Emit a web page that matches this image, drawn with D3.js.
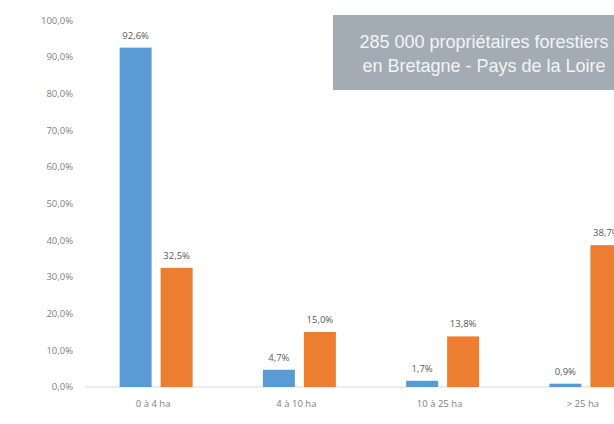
<!DOCTYPE html>
<html>
<head>
<meta charset="utf-8">
<script src="https://cdn.jsdelivr.net/npm/d3@7"></script>
<style>
  body { margin: 0; background: #fff; }
  svg { display: block; }
</style>
</head>
<body>
<svg width="614" height="424"></svg>
<script>
  // données
  const categories = ["0 à 4 ha", "4 à 10 ha", "10 à 25 ha", "> 25 ha"];
  const seriesNames = ["nombre", "surface"];
  const nombre = [92.6, 4.7, 1.7, 0.9];
  const surface = [32.5, 15.0, 13.8, 38.7];
  const yTicks = [0, 10, 20, 30, 40, 50, 60, 70, 80, 90, 100];
  const titleLines = ["285 000 propriétaires forestiers", "en Bretagne - Pays de la Loire"];

  const colors = ["#5b9bd5", "#ed7d31"];
  const fmt = v => d3.format(".1f")(v).replace(".", ",") + "%";

  const svg = d3.select("svg");

  // le graphique est coupé à droite : la zone de tracé dépasse la fenêtre
  const x = d3.scaleBand().domain(categories).range([84.5, 657.5]);
  const x1 = d3.scaleBand().domain(seriesNames).range([0, 73]).paddingInner(0.22);
  const y = d3.scaleLinear().domain([0, 100]).range([387, 20.5]);

  const rows = categories.map((c, i) => ({ cat: c, values: [nombre[i], surface[i]] }));

  // axe des ordonnées (étiquettes seulement)
  svg.append("g")
    .selectAll("text")
    .data(yTicks)
    .join("text")
    .attr("x", 73)
    .attr("y", d => y(d))
    .attr("dy", "0.35em")
    .attr("text-anchor", "end")
    .attr("font-family", "Open Sans, sans-serif")
    .attr("font-size", 9.5)
    .attr("fill", "#7f7f7f")
    .text(d => fmt(d));

  // ligne de base
  svg.append("line")
    .attr("x1", 85).attr("x2", 614)
    .attr("y1", y(0)).attr("y2", y(0))
    .attr("stroke", "#d9d9d9")
    .attr("stroke-width", 1);

  const groups = svg.append("g")
    .selectAll("g")
    .data(rows)
    .join("g")
    .attr("transform", d => `translate(${x(d.cat) + (x.bandwidth() - 73) / 2},0)`);

  const cells = groups.selectAll("g")
    .data(d => d.values.map((v, j) => ({ key: seriesNames[j], v, j })))
    .join("g");

  cells.append("rect")
    .attr("x", d => x1(d.key))
    .attr("width", x1.bandwidth())
    .attr("y", d => y(d.v))
    .attr("height", d => y(0) - y(d.v))
    .attr("fill", d => colors[d.j]);

  cells.append("text")
    .attr("x", d => x1(d.key) + x1.bandwidth() / 2)
    .attr("y", d => y(d.v) - 9)
    .attr("text-anchor", "middle")
    .attr("font-family", "Open Sans, sans-serif")
    .attr("font-size", 9.5)
    .attr("fill", "#595959")
    .text(d => fmt(d.v));

  // étiquettes des catégories
  svg.append("g")
    .selectAll("text")
    .data(categories)
    .join("text")
    .attr("x", d => x(d) + x.bandwidth() / 2 - 3)
    .attr("y", 407)
    .attr("text-anchor", "middle")
    .attr("font-family", "Open Sans, sans-serif")
    .attr("font-size", 9.5)
    .attr("fill", "#7f7f7f")
    .text(d => d);

  // encadré titre
  svg.append("rect")
    .attr("x", 333).attr("y", 15)
    .attr("width", 300).attr("height", 75)
    .attr("fill", "#a3acb4");

  svg.append("g")
    .selectAll("text")
    .data(titleLines)
    .join("text")
    .attr("x", 484)
    .attr("y", (d, i) => 48 + i * 24)
    .attr("text-anchor", "middle")
    .attr("font-family", "Liberation Sans, Arial, sans-serif")
    .attr("font-size", 18)
    .attr("fill", "#f4f4f4")
    .text(d => d);
</script>
</body>
</html>
